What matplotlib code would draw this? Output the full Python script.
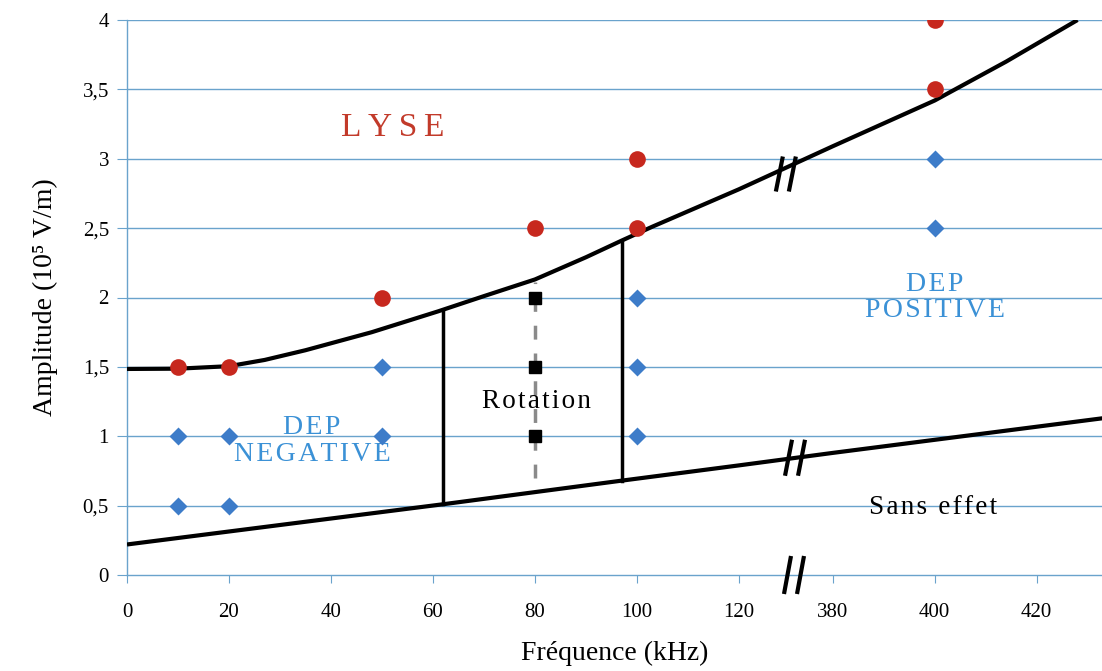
import numpy as np
import matplotlib
matplotlib.use("Agg")
import matplotlib.pyplot as plt
from matplotlib.transforms import IdentityTransform

plt.rcParams['font.family'] = ['Liberation Serif', 'DejaVu Serif']

# axis break: frequencies >= 380 kHz are shifted left onto the axis
BREAK_SHIFT = 241.6

# experimental points (kHz, 10^5 V/m)
lyse_f = [10, 20, 50, 80, 100, 100, 400, 400]
lyse_a = [1.5, 1.5, 2.0, 2.5, 2.5, 3.0, 3.5, 4.0]

dep_f = [10, 10, 20, 20, 50, 50, 100, 100, 100, 400, 400]
dep_a = [1.0, 0.5, 1.0, 0.5, 1.5, 1.0, 2.0, 1.5, 1.0, 3.0, 2.5]

rot_f = [80, 80, 80]
rot_a = [2.0, 1.5, 1.0]

# boundary lines
upper_f = [0, 10, 20, 27, 35, 48, 61, 70, 80, 90, 97, 103, 120, 380, 390, 400, 414, 428]
upper_a = [1.485, 1.487, 1.505, 1.55, 1.62, 1.75, 1.90, 2.01, 2.13, 2.29, 2.41, 2.51, 2.78,
           3.09, 3.255, 3.42, 3.70, 4.0]

lower_f = [0, 62, 97, 120, 380, 433]
lower_a = [0.22, 0.51, 0.68, 0.79, 0.88, 1.13]

# vertical separators (freq, bottom, top)
sep_f = [62, 97]
sep_bot = [0.51, 0.68]
sep_top = [1.90, 2.41]
rot_line = (80, 0.70, 2.11)

xtick_vals = [0, 20, 40, 60, 80, 100, 120, 380, 400, 420]
ytick_vals = [0, 0.5, 1, 1.5, 2, 2.5, 3, 3.5, 4]
ytick_labels = ['0', '0,5', '1', '1,5', '2', '2,5', '3', '3,5', '4']


def pos(f):
    f = np.asarray(f, dtype=float)
    return np.where(f > 200, f - BREAK_SHIFT, f)


def spaced(s, sep='\u200a'):
    # loose letter spacing
    return sep.join(s)


grid_c = '#6aa3cc'
red = '#c7281e'
blue = '#3d7cc9'
txt_blue = '#3b91d6'

fig = plt.figure(figsize=(11.02, 6.71), dpi=100)
ax = fig.add_axes([127 / 1102, 1 - 575 / 671, 1 - 127 / 1102, (575 - 20) / 671])
ax.set_xlim(0, 191.2)
ax.set_ylim(0, 4)

for y in ytick_vals[1:]:
    ax.axhline(y, color=grid_c, lw=1.0, zorder=1)

for s in ['top', 'right']:
    ax.spines[s].set_visible(False)
for s in ['left', 'bottom']:
    ax.spines[s].set_color(grid_c)
    ax.spines[s].set_linewidth(1.0)

ax.set_xticks(pos(xtick_vals))
ax.set_xticklabels([str(v) for v in xtick_vals])
ax.set_yticks(ytick_vals)
ax.set_yticklabels(ytick_labels)
ax.tick_params(axis='x', direction='out', length=6, color=grid_c, pad=14, labelsize=15)
ax.tick_params(axis='y', direction='out', length=7, color=grid_c, pad=6, labelsize=15)

# boundaries
ax.plot(pos(upper_f), upper_a, color='black', lw=3, zorder=3, solid_capstyle='butt')
ax.plot(pos(lower_f), lower_a, color='black', lw=3, zorder=3, solid_capstyle='butt')
for f, b, t in zip(sep_f, sep_bot, sep_top):
    ax.plot([f, f], [b, t], color='black', lw=2.5, zorder=3)
ax.plot([rot_line[0]] * 2, [rot_line[1], rot_line[2]], color='#8a8a8a', lw=2.5,
        dashes=(4, 4), zorder=2)

# points
ax.plot(pos(lyse_f), lyse_a, 'o', color=red, ms=12, mec='none', zorder=4)
ax.plot(pos(dep_f), dep_a, 'D', color=blue, ms=9, mec='none', zorder=4)
ax.plot(pos(rot_f), rot_a, 's', color='black', ms=8, mec='black', zorder=4)

# region labels
ax.text(52.2, 3.22, spaced('LYSE', '\u2009'), color='#c23a2a', fontsize=24,
        ha='center', va='center')
ax.text(36.3, 0.967, spaced('DEP') + '\n' + spaced('NEGATIVE'), color=txt_blue, fontsize=20,
        ha='center', va='center', linespacing=1.1)
ax.text(80.2, 1.254, spaced('Rotation'), color='black', fontsize=19.5,
        ha='center', va='center')
ax.text(158.4, 2.0, spaced('DEP') + '\n' + spaced('POSITIVE'), color=txt_blue, fontsize=20,
        ha='center', va='center', linespacing=1.1)
ax.text(158.0, 0.49, spaced('Sans effet'), color='black', fontsize=19.5,
        ha='center', va='center')

ax.set_xlabel('Fréquence (kHz)', fontsize=20, labelpad=14)
ax.set_ylabel('Amplitude (10\u2075 V/m)', fontsize=20, labelpad=18)

# break marks "//" drawn in pixel space
fig.canvas.draw()


def break_mark(u, y, h=36, gap=13, slant=7):
    cx, cy = ax.transData.transform((u, y))
    for dx in (-gap / 2, gap / 2):
        xs = [cx + dx - slant / 2, cx + dx + slant / 2]
        ys = [cy - h / 2, cy + h / 2]
        ln = plt.Line2D(xs, ys, transform=IdentityTransform(), color='black', lw=3,
                        solid_capstyle='butt', zorder=6)
        fig.add_artist(ln)


break_mark(129.2, 2.89, h=35)
break_mark(131.0, 0.845, h=36)
break_mark(130.8, 0.0, h=38)

fig.savefig('out.png', dpi=100)
